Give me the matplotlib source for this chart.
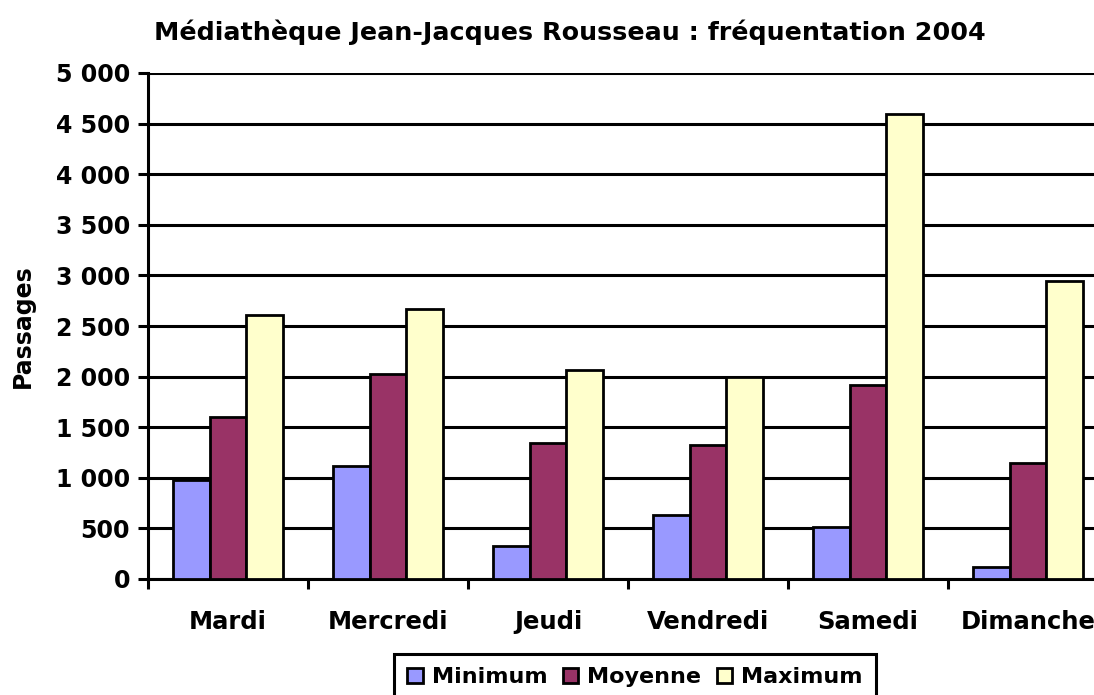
import numpy as np
import matplotlib.pyplot as plt
from matplotlib.ticker import FuncFormatter

# data
jours = ['Mardi', 'Mercredi', 'Jeudi', 'Vendredi', 'Samedi', 'Dimanche']
minimum = [980, 1120, 330, 630, 515, 120]
moyenne = [1600, 2030, 1345, 1320, 1915, 1150]
maximum = [2610, 2670, 2070, 1995, 4590, 2945]
series = ['Minimum', 'Moyenne', 'Maximum']
couleurs = ['#9999FF', '#993366', '#FFFFCC']

plt.rcParams['font.family'] = ['DejaVu Sans']
plt.rcParams['font.weight'] = 'bold'
fs = 17

fig = plt.figure(figsize=(10.94, 6.95), dpi=100)
ax = fig.add_axes([148 / 1094, 1 - 579 / 695, 960 / 1094, (579 - 73) / 695])

x = np.arange(len(jours))
w = 0.228
for i, (vals, c) in enumerate(zip([minimum, moyenne, maximum], couleurs)):
    ax.bar(x + (i - 1) * w, vals, w, color=c, edgecolor='black', linewidth=2,
           label=series[i], zorder=3)

ax.set_xlim(-0.5, len(jours) - 0.5)
ax.set_ylim(0, 5000)
ax.set_yticks(np.arange(0, 5001, 500))
ax.yaxis.set_major_formatter(FuncFormatter(lambda v, p: f'{int(v):,}'.replace(',', ' ')))
ax.grid(axis='y', color='black', linewidth=2.2, zorder=1)

# ticks between categories, labels at centres
ax.set_xticks(np.arange(-0.5, len(jours), 1))
ax.set_xticklabels([])
ax.set_xticks(x, minor=True)
ax.set_xticklabels(jours, minor=True, fontsize=17.5, fontweight='bold')
ax.tick_params(axis='x', which='minor', length=0, pad=22)
ax.tick_params(axis='x', which='major', length=7, width=2.2, direction='out')
ax.tick_params(axis='y', length=7, width=2.2, labelsize=fs, pad=6)
for lab in ax.get_yticklabels():
    lab.set_fontweight('bold')

for s in ['top', 'right']:
    ax.spines[s].set_visible(False)
for s in ['left', 'bottom']:
    ax.spines[s].set_linewidth(2.2)

ax.set_ylabel('Passages', fontsize=fs, fontweight='bold')
ax.yaxis.set_label_coords((35 - 148) / 960, 0.5)
fig.text(570 / 1094, 1 - 32 / 695, 'Médiathèque Jean-Jacques Rousseau : fréquentation 2004',
         ha='center', va='center', fontsize=18.3, fontweight='bold')

leg = fig.legend(loc='upper center', bbox_to_anchor=(635 / 1094, 1 - 654 / 695), ncol=3,
                 fancybox=False, edgecolor='black', fontsize=16, handlelength=0.7,
                 handleheight=0.7, handletextpad=0.4, columnspacing=0.7,
                 borderpad=0.6, borderaxespad=0, framealpha=1)
leg.get_frame().set_linewidth(2.2)

fig.savefig('out.png', dpi=100)
